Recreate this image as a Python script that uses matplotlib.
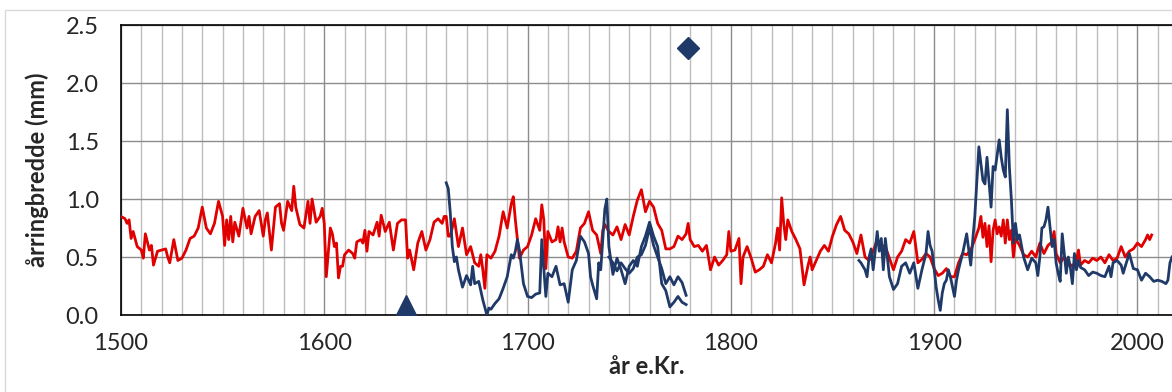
#!/usr/bin/env python3

import matplotlib
matplotlib.use("Agg")
import matplotlib.pyplot as plt
from matplotlib.patches import Rectangle
from matplotlib.ticker import MultipleLocator


# red chronology (years, ring width in mm)
red_years = [
    1500, 1502, 1503, 1504, 1505, 1506, 1508, 1510, 1511, 1512, 1514, 1515,
    1516, 1518, 1520, 1522, 1523, 1524, 1526, 1528, 1530, 1532, 1534, 1536,
    1538, 1540, 1542, 1544, 1546, 1548, 1550, 1551, 1552, 1553, 1554, 1555,
    1556, 1558, 1560, 1562, 1563, 1564, 1566, 1568, 1570, 1571, 1572, 1574,
    1576, 1578, 1579, 1580, 1582, 1584, 1585, 1586, 1588, 1590, 1592, 1593,
    1594, 1596, 1598, 1599, 1600, 1601, 1603, 1604, 1605, 1606, 1607, 1608,
    1609, 1610, 1612, 1614, 1615, 1616, 1618, 1619, 1620, 1621, 1622, 1624,
    1626, 1627, 1628, 1630, 1632, 1634, 1636, 1638, 1640, 1641, 1642, 1644,
    1646, 1648, 1650, 1652, 1654, 1656, 1658, 1659, 1660, 1661, 1662, 1664,
    1666, 1668, 1670, 1672, 1674, 1676, 1677, 1678, 1679, 1680, 1682, 1684,
    1686, 1688, 1690, 1692, 1693, 1694, 1696, 1698, 1700, 1702, 1704, 1706,
    1707, 1708, 1709, 1710, 1712, 1714, 1715, 1716, 1717, 1718, 1720, 1722,
    1724, 1726, 1728, 1730, 1732, 1734, 1736, 1737, 1738, 1740, 1742, 1744,
    1746, 1748, 1750, 1752, 1754, 1756, 1758, 1760, 1762, 1764, 1766, 1768,
    1770, 1772, 1774, 1776, 1778, 1779, 1780, 1782, 1784, 1786, 1788, 1790,
    1792, 1794, 1796, 1798, 1799, 1800, 1802, 1804, 1805, 1806, 1808, 1810,
    1812, 1814, 1816, 1818, 1820, 1822, 1823, 1824, 1825, 1826, 1827, 1828,
    1830, 1832, 1834, 1836, 1838, 1839, 1840, 1842, 1844, 1846, 1848, 1850,
    1852, 1854, 1856, 1858, 1860, 1862, 1864, 1866, 1868, 1870, 1872, 1874,
    1876, 1878, 1880, 1882, 1884, 1886, 1888, 1890, 1892, 1894, 1896, 1898,
    1900, 1902, 1904, 1906, 1908, 1910, 1912, 1914, 1916, 1918, 1920, 1922,
    1923, 1924, 1925, 1926, 1927, 1928, 1929, 1930, 1931, 1932, 1933, 1934,
    1935, 1936, 1937, 1938, 1939, 1940, 1942, 1944, 1946, 1948, 1950, 1952,
    1954, 1956, 1958, 1959, 1960, 1962, 1964, 1966, 1968, 1970, 1971, 1972,
    1974, 1976, 1978, 1980, 1982, 1984, 1986, 1988, 1990, 1992, 1994, 1996,
    1998, 2000, 2002, 2004, 2005, 2006, 2007,
]
red_values = [
    0.85, 0.83, 0.79, 0.82, 0.66, 0.72, 0.59, 0.56, 0.49, 0.70, 0.56, 0.60,
    0.43, 0.55, 0.56, 0.57, 0.50, 0.45, 0.65, 0.47, 0.49, 0.56, 0.66, 0.68,
    0.75, 0.93, 0.75, 0.70, 0.79, 0.98, 0.85, 0.60, 0.82, 0.65, 0.85, 0.63,
    0.80, 0.68, 0.92, 0.75, 0.85, 0.70, 0.85, 0.90, 0.68, 0.82, 0.88, 0.56,
    0.93, 0.96, 0.79, 0.73, 0.98, 0.90, 1.11, 0.93, 0.78, 0.75, 0.98, 0.79,
    1.00, 0.80, 0.85, 0.92, 0.79, 0.33, 0.75, 0.70, 0.59, 0.62, 0.32, 0.42,
    0.42, 0.52, 0.56, 0.53, 0.49, 0.63, 0.65, 0.62, 0.73, 0.55, 0.72, 0.69,
    0.80, 0.68, 0.86, 0.72, 0.80, 0.56, 0.79, 0.82, 0.82, 0.49, 0.56, 0.39,
    0.62, 0.72, 0.56, 0.65, 0.80, 0.83, 0.79, 0.85, 0.85, 0.68, 0.68, 0.83,
    0.59, 0.75, 0.52, 0.59, 0.45, 0.42, 0.52, 0.39, 0.23, 0.52, 0.49, 0.55,
    0.68, 0.89, 0.75, 0.96, 1.02, 0.82, 0.49, 0.56, 0.59, 0.69, 0.83, 0.73,
    0.95, 0.82, 0.40, 0.72, 0.63, 0.65, 0.76, 0.63, 0.75, 0.63, 0.50, 0.49,
    0.55, 0.75, 0.79, 0.89, 0.73, 0.69, 0.53, 0.73, 0.78, 0.72, 0.69, 0.76,
    0.65, 0.78, 0.69, 0.85, 0.99, 1.08, 0.89, 0.98, 0.93, 0.79, 0.73, 0.57,
    0.57, 0.59, 0.68, 0.65, 0.70, 0.79, 0.65, 0.59, 0.60, 0.55, 0.60, 0.39,
    0.50, 0.43, 0.47, 0.52, 0.72, 0.55, 0.56, 0.66, 0.27, 0.50, 0.59, 0.49,
    0.37, 0.39, 0.42, 0.52, 0.45, 0.62, 0.75, 0.56, 1.01, 0.79, 0.65, 0.82,
    0.72, 0.65, 0.57, 0.26, 0.43, 0.50, 0.39, 0.47, 0.55, 0.60, 0.55, 0.68,
    0.78, 0.85, 0.73, 0.70, 0.63, 0.53, 0.69, 0.50, 0.47, 0.55, 0.65, 0.60,
    0.59, 0.49, 0.39, 0.50, 0.55, 0.65, 0.62, 0.72, 0.45, 0.48, 0.53, 0.50,
    0.40, 0.34, 0.36, 0.40, 0.33, 0.33, 0.45, 0.53, 0.52, 0.56, 0.65, 0.75,
    0.85, 0.67, 0.79, 0.59, 0.77, 0.46, 0.73, 0.82, 0.70, 0.76, 0.68, 0.82,
    0.62, 0.82, 0.65, 0.73, 0.50, 0.66, 0.60, 0.52, 0.50, 0.55, 0.50, 0.62,
    0.53, 0.60, 0.63, 0.72, 0.53, 0.45, 0.50, 0.45, 0.42, 0.47, 0.56, 0.43,
    0.47, 0.45, 0.49, 0.47, 0.50, 0.45, 0.52, 0.47, 0.49, 0.59, 0.50, 0.55,
    0.57, 0.62, 0.59, 0.65, 0.69, 0.65, 0.69,
]

# blue series, old part (1660-1778)
blue1_years = [
    1660, 1661, 1662, 1663, 1664, 1665, 1666, 1668, 1670, 1672, 1673, 1674,
    1676, 1678, 1680, 1681, 1682, 1684, 1686, 1688, 1690, 1692, 1693, 1694,
    1695, 1696, 1698, 1700, 1702, 1704, 1706, 1707, 1708, 1709, 1710, 1712,
    1714, 1716, 1718, 1720, 1722, 1724, 1726, 1728, 1730, 1731, 1732, 1734,
    1735, 1736, 1738, 1739, 1740, 1742, 1744, 1746, 1748, 1750, 1752, 1754,
    1756, 1758, 1760, 1762, 1764, 1766, 1768, 1770, 1772, 1774, 1776, 1778,
]
blue1_values = [
    1.14, 1.09, 0.88, 0.59, 0.46, 0.50, 0.39, 0.24, 0.34, 0.26, 0.42, 0.27,
    0.29, 0.13, 0.00, 0.06, 0.05, 0.10, 0.14, 0.23, 0.33, 0.52, 0.49, 0.55,
    0.65, 0.56, 0.27, 0.16, 0.15, 0.18, 0.19, 0.65, 0.40, 0.16, 0.36, 0.33,
    0.42, 0.26, 0.27, 0.11, 0.39, 0.47, 0.68, 0.63, 0.53, 0.33, 0.26, 0.14,
    0.45, 0.39, 0.91, 1.00, 0.59, 0.35, 0.49, 0.39, 0.27, 0.42, 0.47, 0.42,
    0.59, 0.68, 0.80, 0.68, 0.59, 0.27, 0.21, 0.07, 0.11, 0.16, 0.11, 0.09,
]

# second blue line, overlapping the end of the old part
blue2_years = [
    1740, 1742, 1744, 1746, 1748, 1750, 1752, 1754, 1756, 1758, 1760, 1762,
    1764, 1766, 1768, 1770, 1772, 1774, 1776, 1778,
]
blue2_values = [
    0.50, 0.45, 0.38, 0.45, 0.40, 0.36, 0.40, 0.50, 0.52, 0.60, 0.75, 0.60,
    0.50, 0.40, 0.27, 0.33, 0.26, 0.33, 0.28, 0.17,
]

# blue series, recent part (1863-2017)
blue3_years = [
    1863, 1864, 1866, 1867, 1868, 1869, 1870, 1871, 1872, 1873, 1874, 1875,
    1876, 1878, 1880, 1882, 1884, 1886, 1888, 1890, 1892, 1894, 1896, 1897,
    1898, 1899, 1900, 1901, 1902, 1903, 1904, 1905, 1906, 1907, 1908, 1910,
    1911, 1912, 1914, 1916, 1918, 1919, 1920, 1922, 1924, 1925, 1926, 1928,
    1929, 1930, 1932, 1933, 1934, 1935, 1936, 1937, 1938, 1939, 1940, 1941,
    1942, 1944, 1946, 1948, 1950, 1951, 1952, 1953, 1954, 1955, 1956, 1957,
    1958, 1959, 1960, 1961, 1962, 1963, 1964, 1965, 1966, 1967, 1968, 1969,
    1970, 1971, 1972, 1974, 1976, 1978, 1980, 1982, 1984, 1986, 1987, 1988,
    1990, 1992, 1993, 1994, 1996, 1998, 2000, 2002, 2004, 2006, 2008, 2010,
    2012, 2014, 2015, 2016, 2017,
]
blue3_values = [
    0.47, 0.45, 0.39, 0.33, 0.50, 0.57, 0.39, 0.55, 0.72, 0.55, 0.66, 0.39,
    0.66, 0.33, 0.22, 0.27, 0.42, 0.45, 0.36, 0.45, 0.23, 0.39, 0.53, 0.72,
    0.60, 0.55, 0.40, 0.24, 0.13, 0.04, 0.19, 0.27, 0.30, 0.39, 0.33, 0.16,
    0.30, 0.39, 0.53, 0.70, 0.43, 0.65, 0.85, 1.45, 1.16, 1.13, 1.36, 0.93,
    1.28, 1.25, 1.51, 1.36, 1.25, 1.19, 1.77, 1.28, 0.99, 0.62, 0.79, 0.65,
    0.69, 0.50, 0.39, 0.49, 0.45, 0.34, 0.50, 0.75, 0.76, 0.82, 0.93, 0.76,
    0.59, 0.65, 0.45, 0.36, 0.29, 0.70, 0.53, 0.36, 0.50, 0.41, 0.27, 0.53,
    0.39, 0.47, 0.41, 0.39, 0.34, 0.37, 0.36, 0.34, 0.33, 0.42, 0.33, 0.45,
    0.47, 0.43, 0.36, 0.42, 0.53, 0.40, 0.39, 0.30, 0.36, 0.33, 0.29, 0.30,
    0.29, 0.27, 0.30, 0.45, 0.50,
]

# single markers
diamond_year, diamond_value = 1779, 2.30
triangle_year, triangle_value = 1640, 0.085

RED = "#e00000"
NAVY = "#1f3a68"

plt.rcParams["font.family"] = ["Lato", "DejaVu Sans"]

fig = plt.figure(figsize=(11.72, 3.92), dpi=100)
# light frame around the chart area
fig.patches.append(Rectangle((0.004, -0.1), 1.1, 1.074, transform=fig.transFigure,
                             fill=False, edgecolor="#d9d9d9", linewidth=1.0))
ax = fig.add_axes([0.1032, 0.1964, 0.8968, 0.7398])

ax.plot(red_years, red_values, color=RED, linewidth=2.0, zorder=3)
ax.plot(blue1_years, blue1_values, color=NAVY, linewidth=2.0, zorder=4)
ax.plot(blue2_years, blue2_values, color=NAVY, linewidth=2.0, zorder=4)
ax.plot(blue3_years, blue3_values, color=NAVY, linewidth=2.0, zorder=4)
ax.plot([diamond_year], [diamond_value], marker="D", markersize=11,
        color=NAVY, linestyle="none", zorder=5)
ax.plot([triangle_year], [triangle_value], marker="^", markersize=15,
        color=NAVY, linestyle="none", zorder=5)

ax.set_xlim(1500, 2017)
ax.set_ylim(0, 2.5)
ax.xaxis.set_major_locator(MultipleLocator(100))
ax.xaxis.set_minor_locator(MultipleLocator(10))
ax.yaxis.set_major_locator(MultipleLocator(0.5))
ax.yaxis.set_major_formatter(plt.FuncFormatter(lambda v, p: f"{v:.1f}"))

ax.grid(which="major", axis="x", color="#8c8c8c", linewidth=1.0)
ax.grid(which="minor", axis="x", color="#bdbdbd", linewidth=1.0)
ax.grid(which="major", axis="y", color="#8c8c8c", linewidth=1.0)
ax.set_axisbelow(True)

ax.tick_params(which="both", length=0)
ax.tick_params(axis="y", pad=16, labelsize=17, labelcolor="#262626")
ax.tick_params(axis="x", pad=13, labelsize=17, labelcolor="#262626")

for side in ("left", "bottom", "top"):
    ax.spines[side].set_color("#000000")
    ax.spines[side].set_linewidth(1.2)
ax.spines["right"].set_visible(False)

ax.set_ylabel("årringbredde (mm)", fontsize=17, fontweight="bold",
              color="#262626", labelpad=12)
ax.set_xlabel("år e.Kr.", fontsize=17, fontweight="bold", color="#262626",
              labelpad=1)

fig.savefig("out.png", dpi=100)
